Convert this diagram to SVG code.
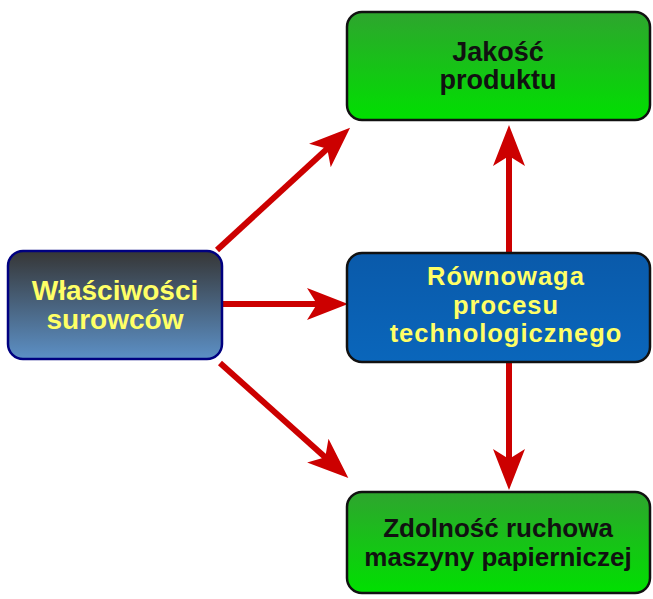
<svg xmlns="http://www.w3.org/2000/svg" width="653" height="599" viewBox="0 0 653 599">
<style>
.t{font-family:"Liberation Sans",Arial,sans-serif;font-weight:bold;font-size:27px;text-anchor:middle}
.y{fill:#ffff66}
.k{fill:#111}
.m{font-size:25.5px;letter-spacing:1px}
.box{stroke:#111;stroke-width:2.5}
.arr{stroke:#cc0000;stroke-width:6;fill:none;marker-end:url(#ah)}
</style>
<defs>
<linearGradient id="gGreen" x1="0" y1="0" x2="0" y2="1">
<stop offset="0" stop-color="#2ea52e"/>
<stop offset="1" stop-color="#00e000"/>
</linearGradient>
<linearGradient id="gLeft" x1="0" y1="0" x2="0" y2="1">
<stop offset="0" stop-color="#363636"/>
<stop offset="1" stop-color="#5c90c6"/>
</linearGradient>
<linearGradient id="gBlue" x1="0" y1="0" x2="0" y2="1">
<stop offset="0" stop-color="#0a5aaa"/>
<stop offset="1" stop-color="#0a66bb"/>
</linearGradient>
<marker id="ah" markerUnits="userSpaceOnUse" markerWidth="44" markerHeight="34" viewBox="0 -17 44 34" refX="11" refY="0" orient="auto" overflow="visible">
<path d="M0,-16 L41,0 L0,16 L10,0 Z" fill="#cc0000"/>
</marker>
</defs>
<g id="connectors">
<line class="arr" x1="222" y1="304" x2="318" y2="304"/>
<line class="arr" x1="217" y1="250" x2="328" y2="148"/>
<line class="arr" x1="220" y1="363" x2="326" y2="458"/>
<line class="arr" x1="509" y1="253" x2="509" y2="155"/>
<line class="arr" x1="509" y1="362" x2="509" y2="460"/>
</g>
<g id="n-surowce">
<rect x="8" y="251" width="214" height="108" rx="15" fill="url(#gLeft)" stroke="#000080" stroke-width="2.5"/>
<text class="t y" x="115" y="300" style="font-size:28px">Właściwości</text>
<text class="t y" x="115" y="329" style="font-size:28px">surowców</text>
</g>
<g id="n-jakosc">
<rect class="box" x="347" y="12" width="303" height="108" rx="15" fill="url(#gGreen)"/>
<text class="t k" x="498" y="61">Jakość</text>
<text class="t k" x="498" y="89">produktu</text>
</g>
<g id="n-rownowaga">
<rect class="box" x="347" y="253" width="303" height="109" rx="15" fill="url(#gBlue)"/>
<text class="t y m" x="506" y="285">Równowaga</text>
<text class="t y m" x="506" y="313.5">procesu</text>
<text class="t y m" x="506" y="342">technologicznego</text>
</g>
<g id="n-zdolnosc">
<rect class="box" x="347" y="492" width="303" height="101" rx="15" fill="url(#gGreen)"/>
<text class="t k" x="498" y="537" style="font-size:26px">Zdolność ruchowa</text>
<text class="t k" x="498" y="566" style="font-size:26px">maszyny papierniczej</text>
</g>
</svg>
